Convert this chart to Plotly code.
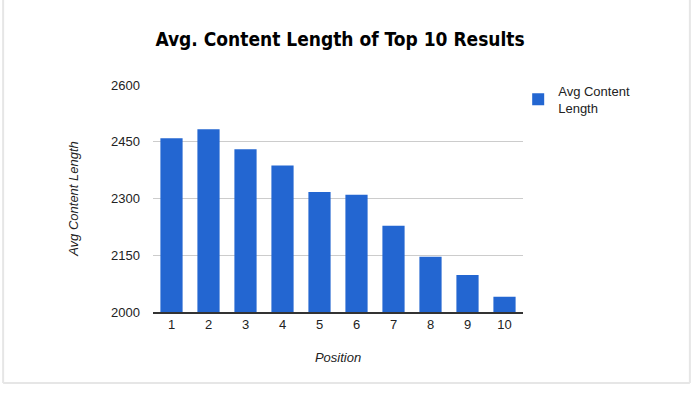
import plotly.graph_objects as go

positions = ["1", "2", "3", "4", "5", "6", "7", "8", "9", "10"]
avg_length = [2459, 2483, 2430, 2387, 2317, 2310, 2228, 2146, 2098, 2040]
y_ticks = [2000, 2150, 2300, 2450, 2600]

fig = go.Figure()
fig.add_trace(go.Bar(
    x=positions, y=avg_length, name="Avg Content<br>Length",
    marker=dict(color="#2366d1", line=dict(width=0)),
    showlegend=True,
))

fig.update_layout(
    width=694, height=394,
    margin=dict(l=153, r=171, t=85, b=82, autoexpand=False),
    paper_bgcolor="white", plot_bgcolor="white",
    bargap=0.4,
    font=dict(family="Liberation Sans, Arial, sans-serif", size=13, color="#222222"),
    title=dict(
        text="<b>Avg. Content Length of Top 10 Results</b>",
        font=dict(family="DejaVu Sans Condensed, Liberation Sans Narrow, sans-serif", size=19, color="#000000"),
        x=0.49, xanchor="center", y=0.9, yanchor="middle",
    ),
    xaxis=dict(
        type="category", showgrid=False, showline=True, linecolor="#333333", linewidth=1.5,
        ticks="", ticklen=0, automargin=False,
        title=dict(text="<i>Position</i>", standoff=22, font=dict(size=13, color="#222222")),
    ),
    yaxis=dict(
        range=[2000, 2600], tickvals=y_ticks, showgrid=True, gridcolor="#cccccc", gridwidth=1,
        zeroline=False, showline=False, ticks="", ticklabelstandoff=12, automargin=False,
        title=dict(text="<i>Avg Content Length</i>", standoff=29, font=dict(size=13, color="#222222")),
    ),
    legend=dict(
        x=0.987, xanchor="left", y=1.04, yanchor="top",
        font=dict(size=13, color="#222222"), bgcolor="rgba(0,0,0,0)",
        itemsizing="constant", itemwidth=30,
    ),
    shapes=[
        dict(type="line", xref="paper", yref="paper", x0=-0.405, x1=-0.405, y0=-0.313, y1=1.4,
             line=dict(color="#e6e6e6", width=2)),
        dict(type="line", xref="paper", yref="paper", x0=-0.405, x1=1.451, y0=-0.313, y1=-0.313,
             line=dict(color="#e6e6e6", width=2)),
        dict(type="line", xref="paper", yref="paper", x0=1.451, x1=1.451, y0=-0.313, y1=1.4,
             line=dict(color="#e6e6e6", width=2)),
    ],
)

fig.write_html("out.html", config={"displayModeBar": False},
               post_script="document.body.style.margin='0';document.body.style.overflow='hidden';")
